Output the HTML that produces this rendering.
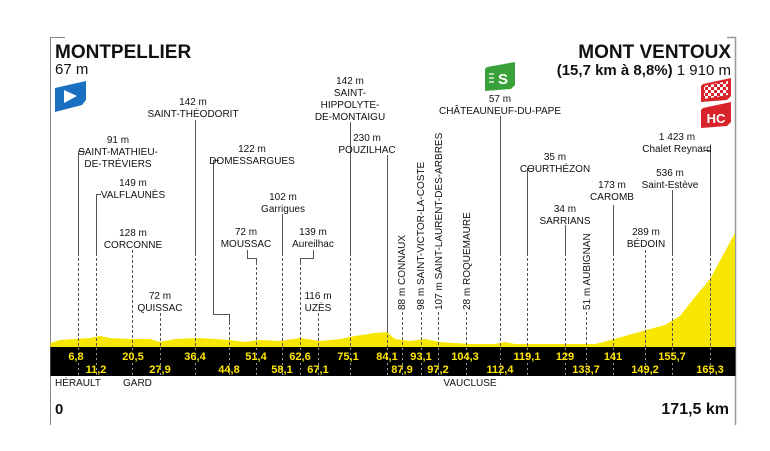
<!DOCTYPE html>
<html><head><meta charset="utf-8"><style>
html,body{margin:0;padding:0;background:#fff;}
svg{display:block;}
text{font-family:"Liberation Sans",sans-serif;fill:#111;}
.s{font-size:10px;text-anchor:middle;}
svg text.k{font-size:11px;font-weight:bold;fill:#ffe600 !important;text-anchor:middle;}
.r{font-size:10px;}
</style></head><body>
<svg width="770" height="451" viewBox="0 0 770 451" xmlns="http://www.w3.org/2000/svg">
<!-- frame -->
<path d="M65 37.5H50.5V425" stroke="#888" stroke-width="1" fill="none"/>
<path d="M727 37.5H735.5V425" stroke="#999" stroke-width="1.5" fill="none"/>

<!-- titles -->
<text x="55" y="58" style="font-size:19px;font-weight:bold;">MONTPELLIER</text>
<text x="55" y="74" style="font-size:15px;">67 m</text>
<path d="M55 88 L86 81 L86 100 L82 105 L55 112 Z" fill="#1a6fc0"/>
<path d="M64 90 L77 96 L64 103 Z" fill="#fff"/>

<text x="731" y="58" style="font-size:19px;font-weight:bold;text-anchor:end;">MONT VENTOUX</text>
<text x="731" y="75" style="font-size:15px;text-anchor:end;"><tspan style="font-weight:bold">(15,7 km à 8,8%)</tspan> 1 910 m</text>

<path d="M487 67 L515 62 L515 85 L511 89 L485 91 L485 69 Z" fill="#3aa13a"/>
<text x="503" y="84" style="font-size:15px;font-weight:bold;fill:#fff;text-anchor:middle;">S</text>
<path d="M489 74h5M489 78h5M489 82h5" stroke="#fff" stroke-width="1.2"/>

<defs><pattern id="ck" width="6" height="6" patternUnits="userSpaceOnUse"><rect width="6" height="6" fill="#fff"/><rect width="3" height="3" fill="#d8232a"/><rect x="3" y="3" width="3" height="3" fill="#d8232a"/></pattern></defs>
<path d="M703 84 L731 78 L731 96 L727 100 L701 102 L701 86 Z" fill="#d8232a"/>
<path d="M704 86 L728 81 L728 95 L704 99 Z" fill="url(#ck)"/>
<path d="M703 108 L731 102 L731 122 L727 126 L701 128 L701 110 Z" fill="#d8232a"/>
<text x="716" y="123" style="font-size:13px;font-weight:bold;fill:#fff;text-anchor:middle;">HC</text>

<!-- profile -->
<path d="M50.5 343 L60 340 L75 339 L90 338 L100 336 L110 338 L130 339 L150 339 L160 342 L175 339 L200 338 L230 340 L245 342 L260 340 L280 341 L300 338 L320 341 L340 339 L355 336 L375 333 L387 332 L395 339 L410 341 L425 339 L440 342 L470 344 L495 344 L505 342 L515 344 L560 344 L595 344 L607 341 L625 336 L650 329 L665 325 L680 316 L695 297 L710 279 L735 233 L735 348 L50.5 348 Z" fill="#f7e600"/>

<!-- leader lines solid -->
<g stroke="#555" stroke-width="1" fill="none">
<path d="M85 151.5H78.5V253"/>
<path d="M101 194.5H96.5V253"/>
<path d="M195.5 120V253"/>
<path d="M219 160.5H213.5V314.5H229.5V322"/>
<path d="M282.5 214V253"/>
<path d="M247.5 250V258.5H256.5V262"/>
<path d="M313.5 250V258.5H300.5V262"/>
<path d="M350.5 122V253"/>
<path d="M387.5 155V330"/>
<path d="M500.5 116V253"/>
<path d="M533 168.5H527.5V253"/>
<path d="M565.5 225V253"/>
<path d="M613.5 205V253"/>
<path d="M672.5 190V253"/>
<path d="M704 150.5H710.5V253"/>
</g>
<!-- dashed -->
<g stroke="#555" stroke-width="1" stroke-dasharray="3,2" fill="none">
<path d="M78.5 253V347M96.5 253V347M132.5 250V347M160.5 313V347M195.5 253V347M229.5 322V347M256.5 262V347M282.5 253V347M300.5 262V347M318.5 313V347M350.5 253V347M387.5 330V347M402.5 312V347M421.5 312V347M438.5 312V347M466.5 312V347M500.5 253V347M527.5 253V347M565.5 253V347M586.5 312V347M613.5 253V347M645.5 250V347M672.5 253V347M710.5 253V347"/>
</g>

<!-- bar -->
<rect x="50.5" y="347" width="685" height="29" fill="#000"/>
<g stroke="#ddd" stroke-width="1" stroke-dasharray="2,3" opacity="0.7">
<path d="M78.5 348V376M96.5 348V376M132.5 348V376M160.5 348V376M195.5 348V376M229.5 348V376M256.5 348V376M282.5 348V376M300.5 348V376M318.5 348V376M350.5 348V376M387.5 348V376M402.5 348V376M421.5 348V376M438.5 348V376M466.5 348V376M500.5 348V376M527.5 348V376M565.5 348V376M586.5 348V376M613.5 348V376M645.5 348V376M672.5 348V376M710.5 348V376"/>
</g>

<!-- km labels -->
<g>
<text class="k" x="76" y="360">6,8</text><text class="k" x="133" y="360">20,5</text><text class="k" x="195" y="360">36,4</text><text class="k" x="256" y="360">51,4</text><text class="k" x="300" y="360">62,6</text><text class="k" x="348" y="360">75,1</text><text class="k" x="387" y="360">84,1</text><text class="k" x="421" y="360">93,1</text><text class="k" x="465" y="360">104,3</text><text class="k" x="527" y="360">119,1</text><text class="k" x="565" y="360">129</text><text class="k" x="613" y="360">141</text><text class="k" x="672" y="360">155,7</text>
<text class="k" x="96" y="373">11,2</text><text class="k" x="160" y="373">27,9</text><text class="k" x="229" y="373">44,8</text><text class="k" x="282" y="373">58,1</text><text class="k" x="318" y="373">67,1</text><text class="k" x="402" y="373">87,9</text><text class="k" x="438" y="373">97,2</text><text class="k" x="500" y="373">112,4</text><text class="k" x="586" y="373">133,7</text><text class="k" x="645" y="373">149,2</text><text class="k" x="710" y="373">165,3</text>
</g>

<!-- place labels -->
<g class="s">
<text x="118" y="143">91 m</text><text x="118" y="155">SAINT-MATHIEU-</text><text x="118" y="167">DE-TRÉVIERS</text>
<text x="133" y="186">149 m</text><text x="133" y="198">VALFLAUNÈS</text>
<text x="133" y="236">128 m</text><text x="133" y="248">CORCONNE</text>
<text x="160" y="299">72 m</text><text x="160" y="311">QUISSAC</text>
<text x="193" y="105">142 m</text><text x="193" y="117">SAINT-THÉODORIT</text>
<text x="252" y="152">122 m</text><text x="252" y="164">DOMESSARGUES</text>
<text x="283" y="200">102 m</text><text x="283" y="212">Garrigues</text>
<text x="246" y="235">72 m</text><text x="246" y="247">MOUSSAC</text>
<text x="313" y="235">139 m</text><text x="313" y="247">Aureilhac</text>
<text x="318" y="299">116 m</text><text x="318" y="311">UZÈS</text>
<text x="350" y="84">142 m</text><text x="350" y="96">SAINT-</text><text x="350" y="108">HIPPOLYTE-</text><text x="350" y="120">DE-MONTAIGU</text>
<text x="367" y="141">230 m</text><text x="367" y="153">POUZILHAC</text>
<text x="500" y="102">57 m</text><text x="500" y="114">CHÂTEAUNEUF-DU-PAPE</text>
<text x="555" y="160">35 m</text><text x="555" y="172">COURTHÉZON</text>
<text x="565" y="212">34 m</text><text x="565" y="224">SARRIANS</text>
<text x="612" y="188">173 m</text><text x="612" y="200">CAROMB</text>
<text x="646" y="235">289 m</text><text x="646" y="247">BÉDOIN</text>
<text x="670" y="176">536 m</text><text x="670" y="188">Saint-Estève</text>
<text x="677" y="140">1 423 m</text><text x="677" y="152">Chalet Reynard</text>
</g>
<g class="r">
<text transform="translate(405,310) rotate(-90)">88 m CONNAUX</text>
<text transform="translate(424,310) rotate(-90)">98 m SAINT-VICTOR-LA-COSTE</text>
<text transform="translate(442,310) rotate(-90)">107 m SAINT-LAURENT-DES-ARBRES</text>
<text transform="translate(470,310) rotate(-90)">28 m ROQUEMAURE</text>
<text transform="translate(590,310) rotate(-90)">51 m AUBIGNAN</text>
</g>

<!-- bottom -->
<text x="55" y="386" style="font-size:10px;">HÉRAULT</text>
<text x="123" y="386" style="font-size:10px;">GARD</text>
<text x="470" y="386" style="font-size:10px;text-anchor:middle;">VAUCLUSE</text>
<text x="55" y="414" style="font-size:15px;font-weight:bold;">0</text>
<text x="729" y="414" style="font-size:16px;font-weight:bold;text-anchor:end;">171,5 km</text>
</svg>
</body></html>
